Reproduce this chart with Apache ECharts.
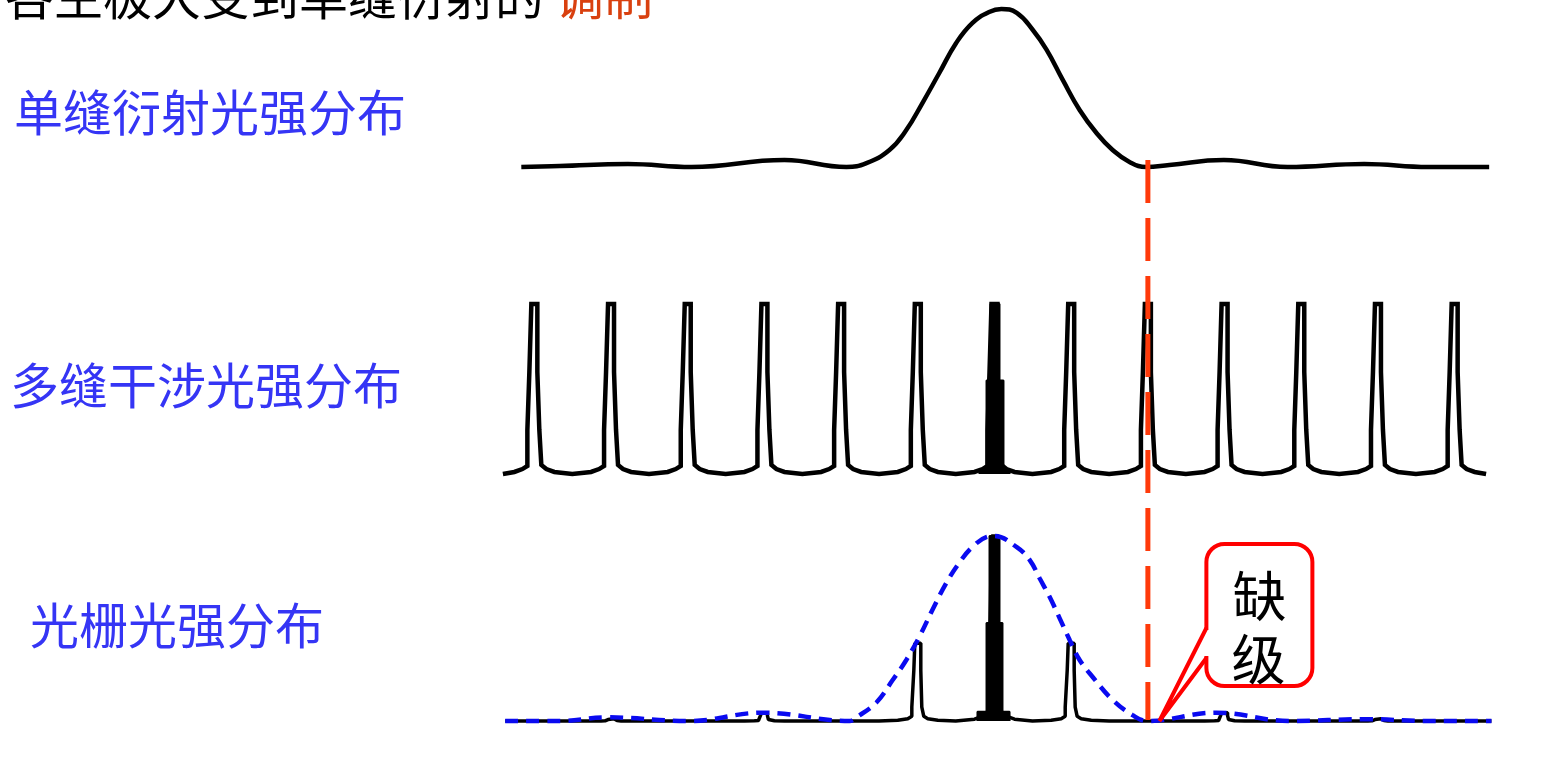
<!DOCTYPE html>
<html>
<head>
<meta charset="utf-8">
<script src="https://cdn.jsdelivr.net/npm/echarts@6/dist/echarts.min.js"></script>
<style>
html,body{margin:0;padding:0;background:#ffffff;}
#c{width:1562px;height:763px;}
</style>
</head>
<body>
<div id="c"></div>
<script>
// ---------------- data (x in grating orders k, y normalised intensity) ----------------
const ORDERS = [-6, -5, -4, -3, -2, -1, 0, 1, 2, 3, 4, 5, 6];
const MULTI_HEIGHTS = [1, 1, 1, 1, 1, 1, 1, 1, 1, 1, 1, 1, 1];
const GRATING_HEIGHTS = [0, 0.012, 0, 0.045, 0, 0.42, 1, 0.42, 0, 0.045, 0, 0.012, 0];
const MISSING_ORDER = 2;

// shape of one multi-slit principal maximum (offset in k, relative height)
const MULTI_PROFILE = [
  [-0.495, 0], [-0.261, 0.012], [-0.156, 0.029], [-0.091, 0.047], [-0.091, 0.259],
  [-0.065, 0.259], [-0.065, 0.6], [-0.039, 0.6], [-0.039, 1], [0.039, 1],
  [0.039, 0.6], [0.065, 0.6], [0.065, 0.259], [0.091, 0.259], [0.091, 0.053],
  [0.156, 0.029], [0.261, 0.012], [0.495, 0]
];
const MULTI_CENTER_FILL = [
  [-0.196, 0], [-0.196, 0.015], [-0.104, 0.04], [-0.104, 0.55], [-0.052, 0.55],
  [-0.052, 1], [0.065, 1], [0.065, 0.55], [0.117, 0.55], [0.117, 0.04],
  [0.196, 0.015], [0.196, 0]
];
// shape of one grating maximum (offset in k, relative height)
const GRATING_PROFILE = [
  [-0.495, 0], [-0.261, 0.01], [-0.13, 0.03], [-0.078, 0.06], [-0.078, 0.18],
  [-0.052, 0.18], [-0.052, 0.65], [-0.039, 0.65], [-0.039, 1], [0.039, 1],
  [0.039, 0.65], [0.052, 0.65], [0.052, 0.18], [0.078, 0.18], [0.078, 0.06],
  [0.13, 0.03], [0.261, 0.01], [0.495, 0]
];
const GRATING_CENTER_FILL = [
  [-0.222, 0], [-0.222, 0.05], [-0.104, 0.05], [-0.104, 0.53], [-0.065, 0.53],
  [-0.065, 1], [0.065, 1], [0.065, 0.53], [0.104, 0.53], [0.104, 0.05],
  [0.196, 0.05], [0.196, 0]
];
const MULTI_RANGE = [-6.41, 6.41];
const GRATING_RANGE = [-6.38, 6.48];

// single-slit diffraction curve (k, intensity)
const SINGLE_SLIT = [
  [-6.17, 0], [-5.67, 0.006], [-4.78, 0.019], [-3.95, 0], [-2.74, 0.044], [-1.93, 0],
  [-1.67, 0.025], [-1.37, 0.108], [-1.15, 0.234], [-0.94, 0.405], [-0.72, 0.595],
  [-0.50, 0.785], [-0.29, 0.911], [-0.07, 0.981], [0.09, 1], [0.29, 0.975],
  [0.50, 0.867], [0.68, 0.741], [0.89, 0.551], [1.11, 0.361], [1.33, 0.215],
  [1.54, 0.108], [1.76, 0.032], [1.98, 0], [2.28, 0.013], [2.99, 0.044],
  [3.82, 0], [4.82, 0.019], [5.66, 0], [6.45, 0]
];
// single-slit envelope drawn over the grating pattern (k, intensity)
const ENVELOPE = [
  [-6.38, 0], [-5.67, 0], [-5.06, 0.02], [-3.98, 0], [-3.02, 0.045], [-1.89, 0],
  [-1.80, 0.02], [-1.54, 0.1], [-1.33, 0.22], [-1.15, 0.33], [-0.98, 0.455],
  [-0.81, 0.6], [-0.63, 0.745], [-0.46, 0.855], [-0.29, 0.94], [-0.10, 0.995],
  [0, 1], [0.29, 0.94], [0.46, 0.87], [0.59, 0.77], [0.72, 0.67], [0.85, 0.555],
  [0.98, 0.438], [1.11, 0.33], [1.28, 0.238], [1.54, 0.114], [1.80, 0.032],
  [1.99, 0], [2.89, 0.045], [3.85, 0], [4.85, 0.01], [5.67, 0], [6.48, 0]
];

const LABELS = ['单缝衍射光强分布', '多缝干涉光强分布', '光栅光强分布'];
const TITLE_BLACK = '各主极大受到单缝衍射的';
const TITLE_RED = '调制';
const CALLOUT_TEXT = ['缺', '级'];
const CALLOUT_TIP = [2.15, 0];

// ---------------- build ----------------
function buildPeaks(profile, heights, range) {
  const pts = [[range[0], 0]];
  ORDERS.forEach(function (k, i) {
    profile.forEach(function (p) {
      const x = k + p[0];
      if (x > range[0] && x < range[1]) pts.push([x, p[1] * heights[i]]);
    });
  });
  pts.push([range[1], 0]);
  return pts;
}
const multiLine = buildPeaks(MULTI_PROFILE, MULTI_HEIGHTS, MULTI_RANGE);
const gratingLine = buildPeaks(GRATING_PROFILE, GRATING_HEIGHTS, GRATING_RANGE);

const FONT = '"Noto Sans CJK SC", "Noto Sans", sans-serif';
const GRID_LEFT = 496, GRID_WIDTH = 997;
const XMIN = -6.5, XMAX = 6.5;

function xAx(i) { return { gridIndex: i, type: 'value', min: XMIN, max: XMAX, show: false }; }
function yAx(i) { return { gridIndex: i, type: 'value', min: 0, max: 1, show: false }; }

const chart = echarts.init(document.getElementById('c'), null, { renderer: 'canvas' });
const option = {
  animation: false,
  backgroundColor: '#ffffff',
  grid: [
    { left: GRID_LEFT, width: GRID_WIDTH, top: 9, height: 158 },
    { left: GRID_LEFT, width: GRID_WIDTH, top: 304, height: 170 },
    { left: GRID_LEFT, width: GRID_WIDTH, top: 536, height: 185 },
    { left: GRID_LEFT, width: GRID_WIDTH, top: 160, height: 560 }
  ],
  xAxis: [xAx(0), xAx(1), xAx(2), xAx(3)],
  yAxis: [yAx(0), yAx(1), yAx(2), yAx(3)],
  series: [
    { type: 'line', xAxisIndex: 0, yAxisIndex: 0, data: SINGLE_SLIT, smooth: 0.45,
      showSymbol: false, clip: false, lineStyle: { color: '#000', width: 4.5 } },
    { type: 'line', xAxisIndex: 1, yAxisIndex: 1, data: multiLine, smooth: false,
      showSymbol: false, clip: false, lineStyle: { color: '#000', width: 4.5, join: 'miter' } },
    { type: 'line', xAxisIndex: 1, yAxisIndex: 1, data: MULTI_CENTER_FILL, smooth: false,
      showSymbol: false, clip: false, lineStyle: { color: '#000', width: 2 },
      areaStyle: { color: '#000', opacity: 1 } },
    { type: 'line', xAxisIndex: 2, yAxisIndex: 2, data: gratingLine, smooth: false,
      showSymbol: false, clip: false, lineStyle: { color: '#000', width: 3.5 } },
    { type: 'line', xAxisIndex: 2, yAxisIndex: 2, data: GRATING_CENTER_FILL, smooth: false,
      showSymbol: false, clip: false, lineStyle: { color: '#000', width: 2 },
      areaStyle: { color: '#000', opacity: 1 } },
    { type: 'line', xAxisIndex: 2, yAxisIndex: 2, data: ENVELOPE, smooth: 0.4, z: 5,
      showSymbol: false, clip: false,
      lineStyle: { color: '#0a0af0', width: 4.5, type: [13, 8] } },
    { type: 'line', xAxisIndex: 3, yAxisIndex: 3, data: [[MISSING_ORDER, 1], [MISSING_ORDER, 0]],
      showSymbol: false, clip: false, z: 6,
      lineStyle: { color: '#ff3a0a', width: 5, type: [43, 15] } }
  ]
};
chart.setOption(option);

const tip = chart.convertToPixel({ xAxisIndex: 2, yAxisIndex: 2 }, CALLOUT_TIP);
const labelStyle = { fontSize: 49, fontFamily: FONT, fill: '#3535f5', textVerticalAlign: 'middle' };
chart.setOption({
  graphic: [
    { type: 'text', x: 5, y: -4, z: 10,
      style: { text: TITLE_BLACK, fontSize: 49, fontFamily: FONT, fill: '#000', textVerticalAlign: 'middle' } },
    { type: 'text', x: 555, y: -4, z: 10,
      style: { text: TITLE_RED, fontSize: 49, fontFamily: FONT, fill: '#d9400f', textVerticalAlign: 'middle' } },
    { type: 'text', x: 14, y: 112, z: 10, style: Object.assign({ text: LABELS[0] }, labelStyle) },
    { type: 'text', x: 10, y: 385, z: 10, style: Object.assign({ text: LABELS[1] }, labelStyle) },
    { type: 'text', x: 30, y: 625, z: 10, style: Object.assign({ text: LABELS[2] }, labelStyle) },
    { type: 'group', x: tip[0], y: tip[1], z: 20,
      children: [
        { type: 'rect', z: 20,
          shape: { x: 47, y: -177, width: 106, height: 142, r: 18 },
          style: { fill: '#ffffff', stroke: '#ff0000', lineWidth: 4 } },
        { type: 'polygon', z: 21,
          shape: { points: [[0, 0], [44, -91], [51, -91], [51, -65], [44, -65]] },
          style: { fill: '#ffffff', stroke: null } },
        { type: 'polyline', z: 22,
          shape: { points: [[47, -93], [0, 0], [47, -63]] },
          style: { stroke: '#ff0000', lineWidth: 4, fill: null, lineJoin: 'miter' } },
        { type: 'text', x: 100, y: -125, z: 23,
          style: { text: CALLOUT_TEXT[0], fontSize: 54, fontFamily: FONT, fill: '#000',
                   textAlign: 'center', textVerticalAlign: 'middle' } },
        { type: 'text', x: 99, y: -62, z: 23,
          style: { text: CALLOUT_TEXT[1], fontSize: 54, fontFamily: FONT, fill: '#000',
                   textAlign: 'center', textVerticalAlign: 'middle' } }
      ] }
  ]
});
</script>
</body>
</html>
